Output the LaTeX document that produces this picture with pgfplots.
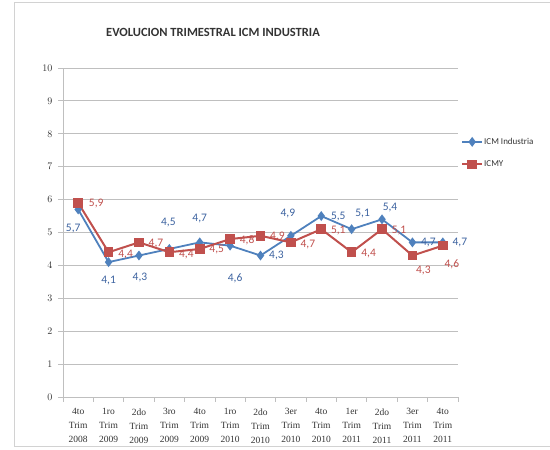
\documentclass[border=0pt]{standalone}
\usepackage{pgfplots}
\pgfplotsset{compat=1.18}
\usepackage{pgfplotstable}
\usepackage{fontspec}
\setmainfont{Carlito}
\newfontfamily\tickfont{Liberation Serif}
\definecolor{bl}{HTML}{4F81BD}
\definecolor{bllab}{HTML}{3D63A0}
\definecolor{rd}{HTML}{C0504D}
\definecolor{gridc}{HTML}{BFBFBF}
\pgfplotstableread{
x y lab dx dy
0 5.7 {5,7} -5 -19
1 4.1 {4,1} 0 -18
2 4.3 {4,3} 1 -22
3 4.5 {4,5} -1 26
4 4.7 {4,7} 0 24
5 4.6 {4,6} 5 -33
6 4.3 {4,3} 16 0
7 4.9 {4,9} -3 22
8 5.5 {5,5} 17 0
9 5.1 {5,1} 11 16
10 5.4 {5,4} 8 12
11 4.7 {4,7} 16 0
12 4.7 {4,7} 17 0
}\blue
\pgfplotstableread{
x y lab dx dy
0 5.9 {5,9} 18 -1
1 4.4 {4,4} 17 -2
2 4.7 {4,7} 17 -1
3 4.4 {4,4} 17 -2
4 4.5 {4,5} 17 -1
5 4.8 {4,8} 17 -1
6 4.9 {4,9} 17 -1
7 4.7 {4,7} 17 -2
8 5.1 {5,1} 17 -1
9 4.4 {4,4} 17 -1
10 5.1 {5,1} 17 -1
11 4.3 {4,3} 11 -15
12 4.6 {4,6} 9 -19
}\red
\begin{document}
\begin{tikzpicture}[x=1pt,y=1pt]
\path[use as bounding box] (0,0) rectangle (550,450);
\draw[gray!35, line width=1pt] (14,3) rectangle (556,447);
\node[font=\bfseries\fontsize{12.5}{14}\selectfont, text=black!80] at (213,418) {EVOLUCION TRIMESTRAL ICM INDUSTRIA};
\begin{axis}[
  at={(63pt,53pt)}, anchor=south west,
  scale only axis, width=395pt, height=329pt,
  xmin=-0.5, xmax=12.5, ymin=0, ymax=10,
  ytick={0,1,...,10},
  xtick={0,...,12},
  xticklabels={{4to\\Trim\\2008},{1ro\\Trim\\2009},{2do\\Trim\\2009},{3ro\\Trim\\2009},{4to\\Trim\\2009},{1ro\\Trim\\2010},{2do\\Trim\\2010},{3er\\Trim\\2010},{4to\\Trim\\2010},{1er\\Trim\\2011},{2do\\Trim\\2011},{3er\\Trim\\2011},{4to\\Trim\\2011}},
  x tick label style={align=center, font=\tickfont\fontsize{9.5}{14}\selectfont, text=black!80, yshift=-3pt},
  y tick label style={font=\tickfont\fontsize{10}{10}\selectfont, text=black!80, xshift=-2pt},
  major x tick style={draw=none},
  minor xtick={-0.5,0.5,...,12.5},
  minor tick length=5pt,
  minor x tick style={gridc, line width=0.8pt},
  major tick length=5pt,
  y tick style={gridc, line width=0.8pt},
  tick align=outside,
  axis x line*=bottom, axis y line*=left,
  axis line style={gridc, line width=0.8pt, -},
  ymajorgrids, grid style={gridc, line width=0.8pt},
  clip=false,
  legend style={at={(1.0,0.80)}, anchor=north west, draw=none, fill=none,
    font=\fontsize{9}{10}\selectfont, text=black!80, row sep=11pt,
    nodes={inner xsep=1pt}},
  legend cell align=left,
  legend image code/.code={
    \draw[#1, mark repeat=2, mark phase=2] plot coordinates {(0pt,0pt) (10pt,0pt) (20pt,0pt)};},
  nodes near coords,
  point meta=explicit symbolic,
  visualization depends on={\thisrow{dx} \as \dx},
  visualization depends on={\thisrow{dy} \as \dy},
  every node near coord/.append style={anchor=center, xshift=\dx pt, yshift=\dy pt, font=\fontsize{11.5}{12}\selectfont},
]
\addplot[bl, line width=1.8pt, mark=diamond*, mark size=3.5pt, mark options={solid, fill=bl},
  every node near coord/.append style={text=bllab}]
  table[x=x, y=y, meta=lab] {\blue};
\addlegendentry{ICM Industria}
\addplot[rd, line width=2pt, mark=square*, mark size=3.8pt, mark options={solid, fill=rd},
  every node near coord/.append style={text=rd}]
  table[x=x, y=y, meta=lab] {\red};
\addlegendentry{ICMY}
\end{axis}
\end{tikzpicture}
\end{document}
